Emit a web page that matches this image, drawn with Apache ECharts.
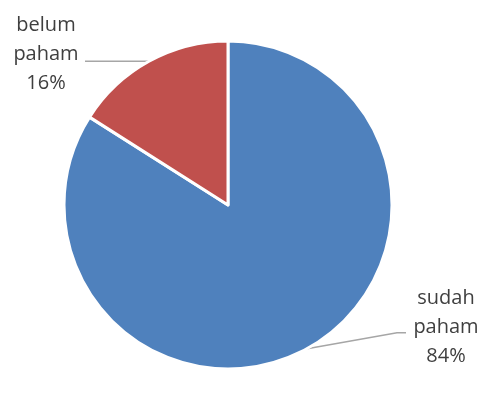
<!DOCTYPE html>
<html><head><meta charset="utf-8">
<script src="https://cdn.jsdelivr.net/npm/echarts@6/dist/echarts.min.js"></script>
<style>html,body{margin:0;padding:0;background:#fff}#c{width:481px;height:405px}</style>
</head><body><div id="c"></div>
<script>
const categories = ['sudah paham', 'belum paham'];
const labels = ['sudah\npaham', 'belum\npaham'];
const values = [84, 16];
const colors = ['#4F81BD', '#C0504D'];

const chart = echarts.init(document.getElementById('c'), null, {renderer: 'canvas'});
chart.setOption({
  animation: false,
  series: [{
    type: 'pie',
    center: [228, 205],
    radius: 164,
    startAngle: 90,
    clockwise: true,
    data: categories.map((c, i) => ({name: c, value: values[i], itemStyle: {color: colors[i]}})),
    itemStyle: {borderColor: '#fff', borderWidth: 3},
    label: {
      show: true,
      position: 'outside',
      formatter: p => labels[p.dataIndex] + '\n' + p.value + '%',
      fontFamily: 'Open Sans',
      fontSize: 20,
      lineHeight: 29,
      color: '#3F3F3F',
      align: 'center'
    },
    labelLine: {show: true, length: 10, length2: 10, lineStyle: {color: '#A6A6A6', width: 1.5}},
    labelLayout: function (p) {
      const a = p.labelLinePoints[0];
      if (p.dataIndex === 0) {
        return {
          x: 446, y: 327, align: 'center', verticalAlign: 'middle', fontSize: 20,
          labelLinePoints: [[a[0], a[1]], [a[0] + 90, a[1] - 16], [a[0] + 99, a[1] - 16]]
        };
      }
      return {
        x: 46, y: 54, align: 'center', verticalAlign: 'middle', fontSize: 20,
        labelLinePoints: [[a[0], a[1]], [a[0] - 1, a[1]], [85, a[1]]]
      };
    },
    emphasis: {disabled: true}
  }]
});
</script></body></html>
